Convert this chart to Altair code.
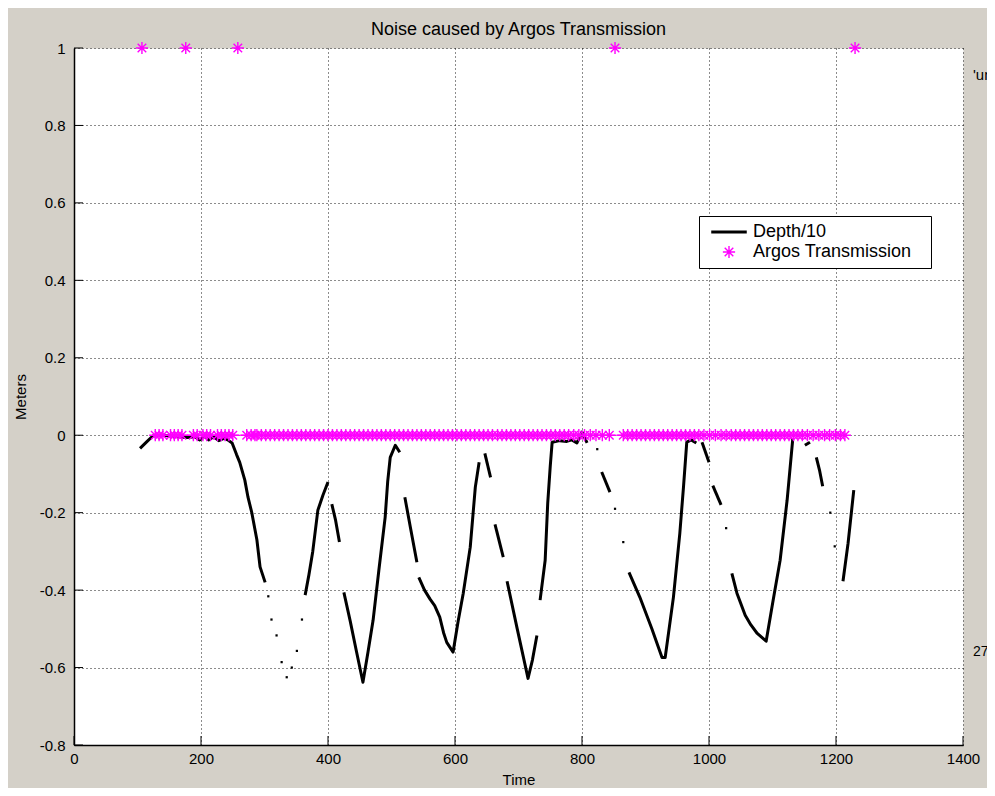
import altair as alt
import pandas as pd

# ---------------- data ----------------
x_ticks = [0, 200, 400, 600, 800, 1000, 1200, 1400]
y_ticks = [-0.8, -0.6, -0.4, -0.2, 0, 0.2, 0.4, 0.6, 0.8, 1]

# Depth/10 line, drawn in separate pieces (segment id)
depth_seg = [1]*25 + [2]*6 + [3]*3 + [4]*12 + [5]*3 + [6]*13 + [7]*2 + [8]*2 + [9]*5 + [10]*11 + [11]*2 + [12]*11 + [13]*2 + [14]*2 + [15]*10 + [16]*2 + [17]*3 + [18]*3
depth_t = [104, 114, 124, 140, 160, 178, 190, 198, 205, 212, 220, 228, 236, 242, 249, 256, 261, 269, 274, 280, 284, 288, 293, 297, 301,
           364, 370, 376, 384, 392, 400,
           406, 412, 418,
           425, 435, 445, 455, 463, 471, 480, 490, 494, 498, 506, 513,
           521, 530, 540,
           543, 552, 561, 568, 576, 582, 587, 597, 605, 613, 624, 632, 638,
           647, 656,
           663, 676,
           682, 698, 715, 722, 729,
           734, 742, 746, 750, 753, 765, 776, 784, 792, 800, 808,
           831, 844,
           874, 891, 910, 926, 931, 944, 954, 960, 965, 972, 980,
           989, 1000,
           1006, 1019,
           1036, 1044, 1057, 1066, 1076, 1090, 1101, 1112, 1123, 1132,
           1151, 1159,
           1169, 1174, 1179,
           1211, 1219, 1228]
depth_m = [-0.034, -0.018, -0.002, 0.0, -0.003, -0.006, -0.004, -0.012, -0.002, -0.012, -0.004, -0.014, -0.008, -0.012, -0.02, -0.05, -0.07, -0.116, -0.16, -0.2, -0.235, -0.27, -0.34, -0.36, -0.38,
           -0.413, -0.36, -0.30, -0.194, -0.155, -0.121,
           -0.178, -0.22, -0.276,
           -0.406, -0.48, -0.56, -0.638, -0.56, -0.478, -0.35, -0.212, -0.12, -0.057, -0.026, -0.044,
           -0.16, -0.24, -0.328,
           -0.367, -0.40, -0.424, -0.44, -0.47, -0.51, -0.535, -0.56, -0.48, -0.408, -0.289, -0.134, -0.07,
           -0.047, -0.109,
           -0.23, -0.315,
           -0.377, -0.50, -0.628, -0.58, -0.517,
           -0.426, -0.323, -0.176, -0.08, -0.018, -0.014, -0.016, -0.012, -0.02, 0.008, -0.02,
           -0.095, -0.147,
           -0.354, -0.418, -0.50, -0.574, -0.574, -0.418, -0.254, -0.13, -0.018, -0.012, -0.02,
           -0.018, -0.07,
           -0.13, -0.18,
           -0.357, -0.408, -0.465, -0.49, -0.512, -0.532, -0.426, -0.323, -0.168, -0.008,
           -0.026, -0.018,
           -0.057, -0.09, -0.132,
           -0.377, -0.279, -0.142]

# isolated single depth samples (small dots)
dot_t = [306, 311, 319, 327, 335, 343, 351, 359, 824, 852, 865, 1027, 1191, 1198]
dot_m = [-0.416, -0.476, -0.517, -0.586, -0.625, -0.60, -0.557, -0.476, -0.036, -0.19, -0.276, -0.24, -0.2, -0.287]

# Argos transmissions recorded at 0
argos_zero_t = [128, 134, 140, 152, 158, 164, 170, 188, 194, 203, 209, 215, 226, 232, 238, 244, 250,
                272, 279, 285,
                288, 295, 302, 309, 316, 323, 330, 337, 344, 351, 358, 365, 372, 379, 386, 393, 400, 407,
                414, 421, 428, 435, 442, 449, 456, 463, 470, 477, 484, 491, 498, 505, 512, 519, 526, 533,
                540, 547, 554, 561, 568, 575, 582, 589, 596, 603, 610, 617, 624, 631, 638, 645, 652, 659,
                667, 674, 681, 688, 695, 702, 709, 716, 723, 730, 737, 744, 751, 758, 765, 772, 779,
                787, 795, 804, 813, 822, 832, 843,
                865, 872, 879, 886, 893, 900, 907, 914, 921, 928, 935, 942, 949, 956, 963, 970, 977, 984,
                992, 1001, 1010, 1019, 1027,
                1035, 1042, 1049, 1056, 1063, 1070, 1077, 1084, 1091, 1098, 1105, 1112, 1119, 1126, 1133, 1140, 1147,
                1155, 1164, 1173, 1182, 1190, 1199, 1207, 1214]
# Argos transmissions recorded at 1
argos_one_t = [107, 176, 258, 852, 1230]

series_names = ["Depth/10", "Argos Transmission"]
series_colors = ["#000000", "#FF00FF"]

# ---------------- tables ----------------
depth_df = pd.DataFrame({"seg": depth_seg, "t": depth_t, "m": depth_m})
dot_df = pd.DataFrame({"t": dot_t, "m": dot_m})
argos_df = pd.DataFrame({
    "t": argos_zero_t + argos_one_t,
    "m": [0] * len(argos_zero_t) + [1] * len(argos_one_t),
    "series": "Argos Transmission",
})
argos_zero_df = pd.DataFrame({"t": argos_zero_t, "m": [0] * len(argos_zero_t)})
xtick_df = pd.DataFrame({"t": x_ticks})
ytick_df = pd.DataFrame({"m": y_ticks})
one_df = pd.DataFrame({"a": [0]})

W, H = 889, 697
FONT = "Liberation Sans"
STAR_SIZE = 150

STAR = "M-1,0L1,0M0,-1L0,1M-0.7,-0.7L0.7,0.7M-0.7,0.7L0.7,-0.7"
LINE = "M-2.9,-0.12L2.9,-0.12M-2.9,0.12L2.9,0.12"

xs = alt.Scale(domain=[0, 1400], nice=False, zero=False)
ys = alt.Scale(domain=[-0.8, 1], nice=False, zero=False)

x_axis = alt.Axis(values=x_ticks, title="Time", grid=True, gridDash=[1, 3], gridColor="#000000",
                  gridOpacity=0.9, ticks=False, domainColor="#000000", domainWidth=1.5,
                  labelFontSize=15, labelFont=FONT, labelColor="#000000", labelPadding=6,
                  labelFlush=False, format="d", titleFontSize=15, titleFont=FONT,
                  titleFontWeight="normal", titleColor="#000000", titleY=34, titleBaseline="middle")
y_axis = alt.Axis(values=y_ticks, title="Meters", grid=True, gridDash=[1, 3], gridColor="#000000",
                  gridOpacity=0.9, ticks=False, domainColor="#000000", domainWidth=1.5,
                  labelFontSize=15, labelFont=FONT, labelColor="#000000", labelPadding=9,
                  labelFlush=False, format="~g", labelExpr="replace(datum.label, '\u2212', '-')",
                  titleFontSize=15, titleFont=FONT, titleFontWeight="normal", titleColor="#000000",
                  titleX=-54, titleY=H / 2, titleBaseline="middle")

X = alt.X("t:Q", scale=xs, axis=x_axis)
Y = alt.Y("m:Q", scale=ys, axis=y_axis)

legend = alt.Legend(orient="none", legendX=625, legendY=168, title=None, fillColor="#FFFFFF",
                    strokeColor="#000000", padding=7, labelFontSize=18, labelFont=FONT,
                    labelColor="#000000", symbolSize=STAR_SIZE, symbolStrokeWidth=1.4, symbolOffset=14,
                    labelOffset=15, rowPadding=2, labelLimit=400,
                    labelExpr="datum.label + '\u2002\u2009\u200b'")

depth_line = alt.Chart(depth_df).mark_line(color="#000000", strokeWidth=3, strokeJoin="round").encode(
    x=X, y=Y, detail="seg:N", order="t:Q")

depth_dots = alt.Chart(dot_df).mark_square(color="#000000", size=5, opacity=1).encode(x=X, y=Y)

argos_line = alt.Chart(argos_zero_df).mark_line(color="#FF00FF", strokeWidth=1).encode(x=X, y=Y)

argos_pts = alt.Chart(argos_df).mark_point(filled=False, size=STAR_SIZE, strokeWidth=1.4, opacity=1).encode(
    x=X, y=Y,
    color=alt.Color("series:N", scale=alt.Scale(domain=series_names, range=series_colors), legend=legend),
    shape=alt.Shape("series:N", scale=alt.Scale(domain=series_names, range=[LINE, STAR]), legend=legend),
)

xticks_layer = alt.Chart(xtick_df).mark_rule(color="#000000", strokeWidth=1).encode(
    x=X, y=alt.value(H), y2=alt.value(H - 9))
yticks_layer = alt.Chart(ytick_df).mark_rule(color="#000000", strokeWidth=1).encode(
    y=Y, x=alt.value(0), x2=alt.value(9))

note1 = alt.Chart(one_df).mark_text(align="left", baseline="middle", fontSize=15, font=FONT,
                                    color="#000000").encode(
    x=alt.value(899), y=alt.value(27), text=alt.value("'un"))
note2 = alt.Chart(one_df).mark_text(align="left", baseline="middle", fontSize=14, font=FONT,
                                    color="#000000").encode(
    x=alt.value(899), y=alt.value(604), text=alt.value("27"))

chart = alt.layer(
    depth_line, depth_dots, argos_line, argos_pts, xticks_layer, yticks_layer,
    note1, note2,
).properties(
    width=W, height=H,
    padding={"left": 66, "top": 40, "right": 24, "bottom": 43},
    autosize=alt.AutoSizeParams(type="none"),
    title=alt.Title("Noise caused by Argos Transmission", fontSize=18, fontWeight="normal",
                    font=FONT, color="#000000", offset=0, frame="group"),
).configure(
    background="#D4D0C8", font=FONT,
).configure_view(
    fill="#FFFFFF", stroke="transparent",
)

chart.save("out.html", embed_options={"renderer": "svg", "actions": False})
